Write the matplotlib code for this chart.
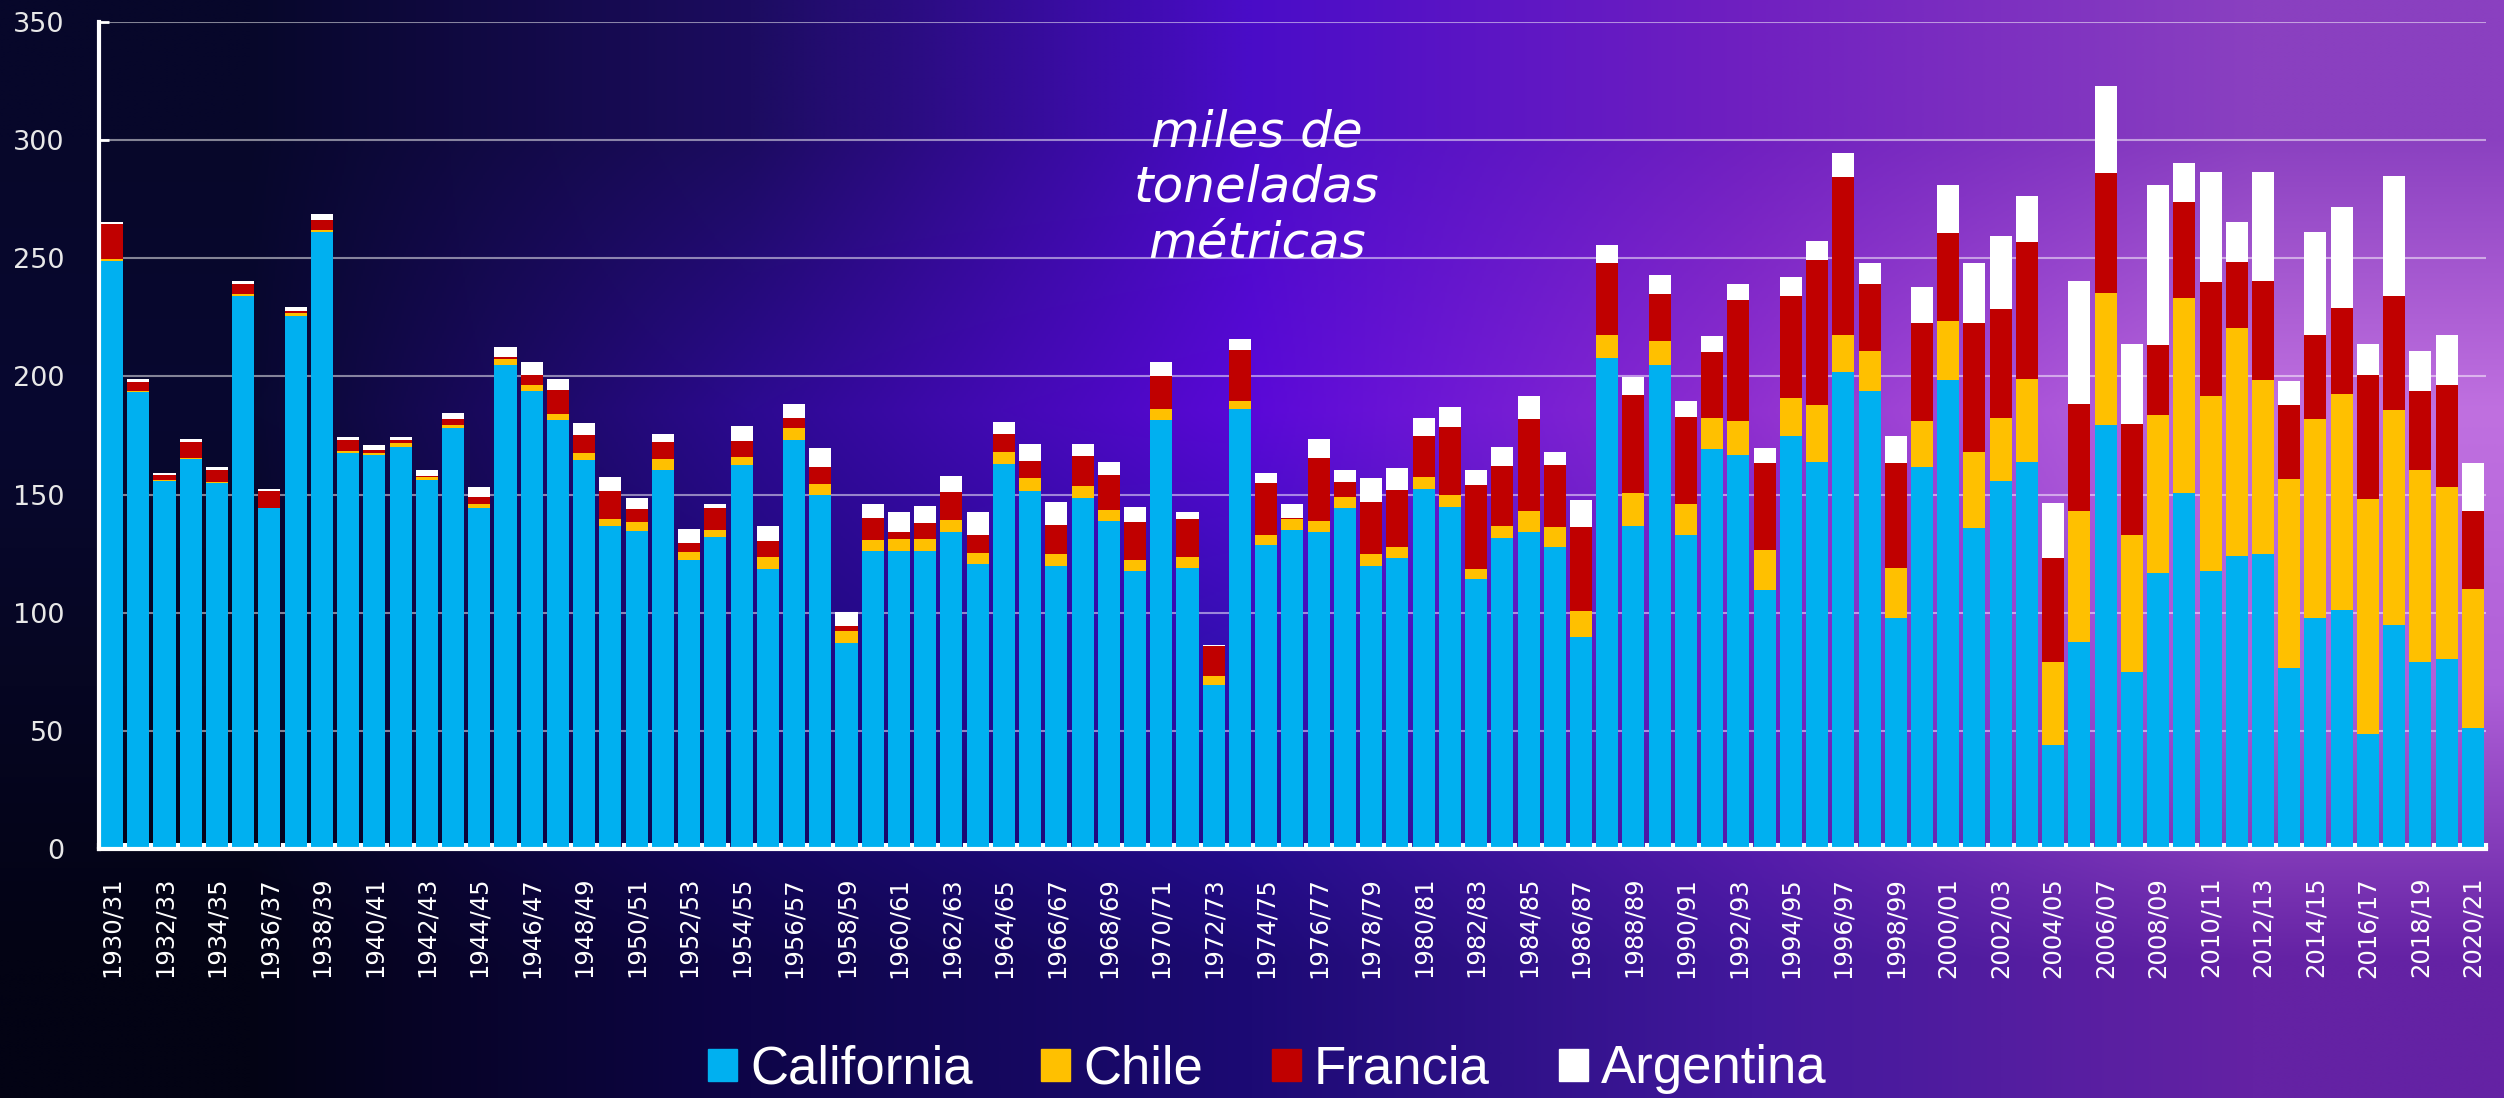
# Stacked bars: world walnut production by origin, 1930/31 - 2020/21

import numpy as np
import matplotlib.pyplot as plt
from matplotlib.colors import to_rgb
from matplotlib.patches import Patch

seasons = [f"{y}/{(y + 1) % 100:02d}" for y in range(1930, 2021)]

california = [249, 193.5, 155.7, 165, 155, 234, 144.2, 225.6, 261, 167.7,
              166.8, 170, 156, 178, 144.2, 205, 194, 181.4, 164.8, 136.6,
              134.7, 160.4, 122.4, 132, 162.3, 118.5, 173.2, 149.6, 87, 125.9,
              125.9, 125.9, 134.1, 120.5, 163.1, 151.4, 119.9, 148.7, 138.7, 117.7,
              181.4, 118.7, 69.5, 186, 128.8, 134.9, 134.1, 144.2, 119.9, 123.2,
              152.4, 144.8, 114.2, 131.5, 134.3, 127.9, 89.5, 207.6, 136.6, 204.7,
              133, 169.3, 166.8, 109.5, 174.9, 163.9, 201.9, 193.8, 97.6, 161.6,
              198.6, 135.7, 155.9, 163.9, 44.1, 87.4, 179.5, 74.7, 116.6, 150.5,
              117.6, 123.9, 124.7, 76.4, 97.6, 101.2, 48.7, 94.7, 79.3, 80.2,
              51.4]
chile = [0.5, 0.3, 0.3, 0.3, 0.3, 0.7, 0.3, 1.4, 1, 0.7,
         0.7, 1.7, 1.4, 1.5, 1.6, 2.5, 2.5, 2.7, 2.8, 3.1,
         3.5, 4.8, 3.1, 2.9, 3.7, 5.1, 4.9, 4.9, 5.2, 4.7,
         5.1, 5.1, 5.2, 4.8, 5, 5.4, 5, 5, 4.7, 4.7,
         4.8, 4.7, 3.7, 3.7, 3.9, 4.6, 4.8, 4.7, 4.8, 4.5,
         5, 5, 4.3, 5.1, 8.9, 8.5, 11.1, 9.8, 14.1, 10.2,
         12.9, 13.3, 14.5, 16.9, 16, 23.9, 15.6, 17.1, 21.1, 19.7,
         24.8, 32.1, 26.7, 35.1, 35.2, 55.8, 55.8, 58.3, 67.2, 82.6,
         74.1, 96.6, 73.9, 80, 84.4, 91.4, 99.5, 91, 81, 73.2,
         58.7]
francia = [15, 4, 2.4, 6.8, 5.2, 4.3, 6.8, 0.7, 4.2, 4.5,
           1.4, 1.2, 0.6, 2.4, 3.3, 0.8, 3.9, 10.1, 7.5, 11.9,
           5.8, 7, 3.9, 9.2, 6.6, 6.6, 4.2, 7.2, 2.2, 9.3,
           3.3, 7, 11.9, 7.4, 7.6, 7.2, 12.3, 12.5, 14.8, 16,
           14, 16.1, 12.6, 21.4, 22, 0.6, 26.5, 6.2, 22.2, 24.1,
           17.5, 28.8, 35.4, 25.5, 38.9, 25.9, 35.8, 30.7, 41.3, 20.1,
           36.9, 27.7, 51, 37, 43.1, 61.6, 66.8, 28.3, 44.7, 41.1,
           37.3, 55, 46, 57.7, 43.7, 45.2, 50.6, 46.9, 29.4, 40.8,
           48.3, 28.1, 41.9, 31.6, 35.6, 36.2, 52.6, 48.5, 33.7, 42.9,
           33.1]
argentina = [1, 1.1, 0.9, 1.3, 1.1, 1.4, 1, 1.6, 2.4, 1.6,
             1.9, 1.4, 2.5, 2.5, 3.9, 4.3, 5.5, 4.5, 5.3, 6,
             4.5, 3.5, 6, 1.9, 6.2, 6.4, 5.9, 7.8, 5.8, 6,
             8.3, 7.2, 6.6, 9.9, 4.9, 7.6, 9.7, 5.2, 5.7, 6.2,
             5.7, 3.3, 0.6, 4.9, 4.5, 5.7, 8.2, 5.4, 10.1, 9.3,
             7.6, 8.6, 6.6, 8, 9.4, 5.8, 11.1, 7.4, 7.9, 7.8,
             6.9, 6.6, 6.7, 6.5, 8.1, 7.9, 10.4, 8.6, 11.3, 15.6,
             20.4, 25, 31, 19.6, 23.4, 52.1, 37, 33.7, 67.9, 16.5,
             46.5, 16.9, 45.8, 10.2, 43.5, 42.9, 13, 50.4, 16.7, 21.1,
             20]

series = [("California", california, "#00B0F0"),
          ("Chile", chile, "#FFC000"),
          ("Francia", francia, "#C00000"),
          ("Argentina", argentina, "#FFFFFF")]

# background colour grid (rows top -> bottom)
bg = [["#07072a", "#1c0c60", "#4a0cc8", "#7020c0", "#8a40c0"],
      ["#080830", "#2c0a90", "#5a08d8", "#9030d0", "#c070e0"],
      ["#060622", "#1c0878", "#3010b0", "#7020c0", "#b060d8"],
      ["#030314", "#0e0548", "#1c0a74", "#42189c", "#6422a4"]]

fig = plt.figure(figsize=(25.04, 10.98), dpi=100)

bg_ax = fig.add_axes([0, 0, 1, 1], zorder=0)
img = np.array([[to_rgb(c) for c in row] for row in bg])
bg_ax.imshow(img, aspect='auto', interpolation='bilinear', extent=[0, 1, 0, 1])
bg_ax.axis('off')

ax = fig.add_axes([0.0395, 0.2268, 0.9533, 0.7532], zorder=1)
ax.patch.set_alpha(0)

x = np.arange(len(seasons))
bottom = np.zeros(len(seasons))
for name, vals, col in series:
    vals = np.array(vals)
    ax.bar(x, vals, 0.84, bottom=bottom, color=col, zorder=3)
    bottom += vals

ax.set_xlim(-0.5, len(seasons) - 0.5)
ax.set_ylim(0, 350)
ax.set_yticks(range(0, 351, 50))
ax.yaxis.grid(True, color='white', alpha=0.5, lw=1.5)
ax.set_axisbelow(True)

for s in ['top', 'right']:
    ax.spines[s].set_visible(False)
for s in ['left', 'bottom']:
    ax.spines[s].set_color('white')
    ax.spines[s].set_linewidth(3)
    ax.spines[s].set_zorder(4)

ax.set_xticks(x[::2])
ax.set_xticklabels(seasons[::2], rotation=90, fontsize=17.5, color='white')
ax.tick_params(axis='x', which='major', length=0, pad=20)
ax.set_xticks(np.arange(-0.5, len(seasons), 1), minor=True)
ax.tick_params(axis='x', which='minor', direction='in', length=4, width=3, color='white')
ax.tick_params(axis='y', direction='in', length=7, width=2, color='white',
               labelsize=19.5, labelcolor='#e8e8e8', pad=25)

fig.text(0.502, 0.829, "miles de\ntoneladas\nmétricas", ha='center', va='center',
         fontsize=36, style='italic', color='white', linespacing=1.2)

handles = [Patch(color=col) for _, _, col in series]
labels = [name for name, _, _ in series]
fig.legend(handles, labels, loc='center', bbox_to_anchor=(0.506, 0.026), ncol=4,
           frameon=False, handlelength=0.55, handleheight=0.55, handletextpad=0.25,
           columnspacing=1.3, labelcolor='white',
           prop={'family': 'Liberation Sans', 'size': 38})

fig.savefig('out.png', dpi=100)
